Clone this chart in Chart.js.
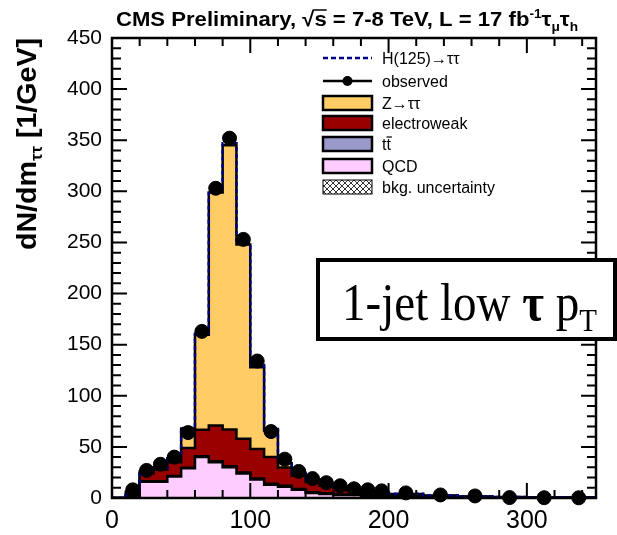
<!DOCTYPE html>
<html>
<head>
<meta charset="utf-8">
<script src="https://cdn.jsdelivr.net/npm/chart.js@4.4.0/dist/chart.umd.min.js"></script>
<style>
  html, body { margin: 0; padding: 0; background: #fff; }
  #wrap { width: 617px; height: 535px; position: relative; }
</style>
</head>
<body>
<div id="wrap"><canvas id="chart"></canvas></div>
<script>
// m_tautau bins (GeV): 10 GeV wide up to 200, then 25 GeV
const binEdges = [0, 10, 20, 30, 40, 50, 60, 70, 80, 90, 100, 110, 120, 130, 140, 150, 160, 170, 180, 190, 200, 225, 250, 275, 300, 325, 350];

// dN/dm per bin
const observed    = [null, 8, 27, 33, 40, 64, 163, 303, 352, 253, 134, 65, 38, 26, 19, 15, 12, 9, 8, 7, 5, 3, 2, 0.4, 0.3, 0.2];
const qcd         = [0, 2, 16, 16, 21, 29, 40, 35, 30, 24, 18, 13, 11, 8, 5, 4, 3, 3, 2, 1.5, 1, 0.5, 0.3, 0.2, 0.1, 0.1];
const ttbar       = [0, 0, 0.3, 0.4, 0.5, 0.6, 0.8, 0.9, 1, 1, 1, 1, 0.9, 0.8, 0.7, 0.6, 0.5, 0.5, 0.4, 0.4, 0.3, 0.2, 0.2, 0.1, 0.1, 0.1];
const electroweak = [0, 2, 7.7, 11.6, 13.5, 19.4, 26, 35, 36, 33, 29, 26, 18, 13, 10, 7.4, 6.5, 3.5, 3.6, 3, 1.7, 1.3, 0.7, 0.5, 0.3, 0.1];
const ztautau     = [0, 2, 2, 2, 4, 19, 93, 228, 278, 190, 80, 26, 4, 2, 2, 2, 1, 1, 1, 1, 1, 0.5, 0.3, 0.2, 0.1, 0.1];
const higgs       = [0, 0, 0, 0, 0.2, 0.5, 1, 1.5, 2, 2, 2, 1.5, 1, 0.8, 0.5, 0.4, 0.3, 0.2, 0.2, 0.1, 0.1, 0, 0, 0, 0, 0];

const xTicks = [0, 100, 200, 300];
const yTicks = [0, 50, 100, 150, 200, 250, 300, 350, 400, 450];

const legendRows = [
  { label: 'H(125)\u2192\u03c4\u03c4', kind: 'dash', color: '#000080' },
  { label: 'observed', kind: 'point', color: '#000' },
  { label: 'Z\u2192\u03c4\u03c4', kind: 'box', color: '#ffcc66' },
  { label: 'electroweak', kind: 'box', color: '#990000' },
  { label: 'tt', kind: 'box', color: '#9999cc', overSecond: true },
  { label: 'QCD', kind: 'box', color: '#ffccff' },
  { label: 'bkg. uncertainty', kind: 'hatch', color: '#fff' }
];

// helpers
function cumulate(...layers) {
  return layers[0].map((_, i) => layers.reduce((s, l) => s + l[i], 0));
}
function stepPoints(values) {
  const pts = values.map((v, i) => ({ x: binEdges[i], y: v }));
  pts.push({ x: binEdges[binEdges.length - 1], y: values[values.length - 1] });
  return pts;
}
function stackLayer(values, color, order) {
  return {
    data: stepPoints(values),
    stepped: 'before',
    fill: 'origin',
    backgroundColor: color,
    borderColor: '#000',
    borderWidth: 2.5,
    pointRadius: 0,
    order: order
  };
}

const observedPoints = [];
observed.forEach((v, i) => {
  if (v !== null) observedPoints.push({ x: (binEdges[i] + binEdges[i + 1]) / 2, y: v });
});

// draw text made of pieces (sub/superscripts), squeezed to a target width
function drawRich(ctx, x, y, parts, targetWidth) {
  let total = 0;
  parts.forEach(p => { ctx.font = p.font; p.w = ctx.measureText(p.text).width; total += p.w; });
  const sx = targetWidth ? targetWidth / total : 1;
  ctx.save();
  ctx.translate(x, y);
  ctx.scale(sx, 1);
  let cx = 0;
  parts.forEach(p => {
    ctx.font = p.font;
    ctx.fillText(p.text, cx, p.dy || 0);
    if (p.overline) {
      ctx.lineWidth = 1.5;
      ctx.beginPath();
      ctx.moveTo(cx - 1, p.overline);
      ctx.lineTo(cx + p.w, p.overline);
      ctx.stroke();
    }
    cx += p.w;
  });
  ctx.restore();
}

function hatchPattern(ctx) {
  const c = document.createElement('canvas');
  c.width = 6; c.height = 6;
  const g = c.getContext('2d');
  g.fillStyle = '#fff';
  g.fillRect(0, 0, 6, 6);
  g.strokeStyle = '#000';
  g.lineWidth = 0.8;
  g.beginPath();
  g.moveTo(0, 0); g.lineTo(6, 6);
  g.moveTo(6, 0); g.lineTo(0, 6);
  g.stroke();
  return ctx.createPattern(c, 'repeat');
}

const frameAndTicks = {
  id: 'frameAndTicks',
  afterDatasetsDraw(chart) {
    const { ctx, chartArea: a, scales: { x, y } } = chart;
    ctx.save();
    ctx.strokeStyle = '#000';
    ctx.lineWidth = 2;
    ctx.beginPath();
    for (let v = 0; v <= 350; v += 20) {
      const px = x.getPixelForValue(v);
      const len = v % 100 === 0 ? 15 : 8;
      ctx.moveTo(px, a.bottom); ctx.lineTo(px, a.bottom - len);
      ctx.moveTo(px, a.top); ctx.lineTo(px, a.top + len);
    }
    for (let v = 0; v <= 450; v += 10) {
      const py = y.getPixelForValue(v);
      const len = v % 50 === 0 ? 15 : 9;
      ctx.moveTo(a.left, py); ctx.lineTo(a.left + len, py);
      ctx.moveTo(a.right, py); ctx.lineTo(a.right - len, py);
    }
    ctx.stroke();
    ctx.lineWidth = 2.5;
    ctx.strokeRect(a.left, a.top, a.right - a.left, a.bottom - a.top);
    ctx.restore();
  }
};

const overlay = {
  id: 'overlay',
  afterDraw(chart) {
    const ctx = chart.ctx;
    ctx.save();
    ctx.fillStyle = '#000';
    ctx.strokeStyle = '#000';
    ctx.textBaseline = 'alphabetic';

    // title
    const tb = 'bold 21px "Liberation Sans", Arial, sans-serif';
    const ts = 'bold 13px "Liberation Sans", Arial, sans-serif';
    drawRich(ctx, 116, 26, [
      { text: 'CMS Preliminary, ', font: tb },
      { text: '\u221a', font: tb },
      { text: 's', font: tb, overline: -16 },
      { text: ' = 7-8 TeV, L = 17 fb', font: tb },
      { text: '-1', font: ts, dy: -8 },
      { text: '\u03c4', font: tb },
      { text: '\u03bc', font: ts, dy: 5 },
      { text: '\u03c4', font: tb },
      { text: 'h', font: ts, dy: 5 }
    ], 462);

    // y axis title
    ctx.save();
    ctx.translate(36, 250);
    ctx.rotate(-Math.PI / 2);
    const yb = 'bold 27px "Liberation Sans", Arial, sans-serif';
    const ys = 'bold 16px "Liberation Sans", Arial, sans-serif';
    drawRich(ctx, 0, 0, [
      { text: 'dN/dm', font: yb },
      { text: '\u03c4\u03c4', font: ys, dy: 6 },
      { text: ' [1/GeV]', font: yb }
    ], 212);
    ctx.restore();

    // legend
    const lx0 = 323, lx1 = 372, tx = 382;
    const rowY = [58, 81, 103, 123, 144, 166, 187];
    ctx.font = '16px "Liberation Sans", Arial, sans-serif';
    legendRows.forEach((r, i) => {
      const cy = rowY[i];
      if (r.kind === 'dash') {
        ctx.save();
        ctx.strokeStyle = r.color;
        ctx.lineWidth = 2.5;
        ctx.setLineDash([5, 3]);
        ctx.beginPath(); ctx.moveTo(lx0, cy); ctx.lineTo(lx1, cy); ctx.stroke();
        ctx.restore();
      } else if (r.kind === 'point') {
        ctx.lineWidth = 2.5;
        ctx.beginPath(); ctx.moveTo(lx0, cy); ctx.lineTo(lx1, cy); ctx.stroke();
        ctx.beginPath(); ctx.arc((lx0 + lx1) / 2, cy, 5, 0, Math.PI * 2); ctx.fill();
      } else if (r.kind === 'box') {
        ctx.fillStyle = r.color;
        ctx.fillRect(lx0, cy - 7, lx1 - lx0, 14);
        ctx.lineWidth = 2.5;
        ctx.strokeRect(lx0, cy - 7, lx1 - lx0, 14);
        ctx.fillStyle = '#000';
      } else {
        ctx.fillStyle = hatchPattern(ctx);
        ctx.fillRect(lx0, cy - 7, lx1 - lx0, 14);
        ctx.lineWidth = 1;
        ctx.strokeRect(lx0, cy - 7, lx1 - lx0, 14);
        ctx.fillStyle = '#000';
      }
      ctx.font = '16px "Liberation Sans", Arial, sans-serif';
      ctx.fillText(r.label, tx, cy + 6);
      if (r.overSecond) {
        const w1 = ctx.measureText('t').width;
        ctx.lineWidth = 1.2;
        ctx.beginPath(); ctx.moveTo(tx + w1, cy - 7); ctx.lineTo(tx + 2 * w1 + 1, cy - 7); ctx.stroke();
      }
    });

    // category box
    ctx.fillStyle = '#fff';
    ctx.fillRect(318, 260, 297, 79);
    ctx.lineWidth = 4;
    ctx.strokeRect(318, 260, 297, 79);
    ctx.fillStyle = '#000';
    const sf = '52px "Liberation Serif", "DejaVu Serif", serif';
    const sfb = 'bold 52px "Liberation Serif", "DejaVu Serif", serif';
    drawRich(ctx, 342, 320, [
      { text: '1-jet low ', font: sf },
      { text: '\u03c4', font: sfb },
      { text: ' p', font: sf },
      { text: 'T', font: '32px "Liberation Serif", "DejaVu Serif", serif', dy: 11 }
    ], 255);

    ctx.restore();
  }
};

const ctx = document.getElementById('chart').getContext('2d');
new Chart(ctx, {
  type: 'line',
  data: {
    datasets: [
      {
        data: observedPoints,
        showLine: false,
        pointRadius: 7,
        pointBackgroundColor: '#000',
        pointBorderColor: '#000',
        clip: false,
        order: 0
      },
      {
        data: stepPoints(cumulate(qcd, ttbar, electroweak, ztautau, higgs)),
        stepped: 'before',
        fill: false,
        borderColor: '#000080',
        borderWidth: 2.5,
        borderDash: [4, 3],
        pointRadius: 0,
        order: 1
      },
      stackLayer(qcd, '#ffccff', 2),
      stackLayer(cumulate(qcd, ttbar), '#9999cc', 3),
      stackLayer(cumulate(qcd, ttbar, electroweak), '#990000', 4),
      stackLayer(cumulate(qcd, ttbar, electroweak, ztautau), '#ffcc66', 5)
    ]
  },
  options: {
    responsive: true,
    maintainAspectRatio: false,
    animation: false,
    layout: { padding: { top: 38, right: 21, left: 0, bottom: 0 } },
    plugins: { legend: { display: false }, tooltip: { enabled: false } },
    scales: {
      x: {
        type: 'linear', min: 0, max: 350,
        grid: { display: false, drawTicks: false },
        border: { display: false },
        afterBuildTicks: s => { s.ticks = xTicks.map(v => ({ value: v })); },
        afterFit: s => { s.height = 37; },
        ticks: { autoSkip: false, maxRotation: 0, padding: 8, color: '#000',
                 font: { family: '"Liberation Sans", Arial, sans-serif', size: 25 } }
      },
      y: {
        type: 'linear', min: 0, max: 450,
        grid: { display: false, drawTicks: false },
        border: { display: false },
        afterBuildTicks: s => { s.ticks = yTicks.map(v => ({ value: v })); },
        afterFit: s => { s.width = 112; },
        ticks: { autoSkip: false, padding: 10, color: '#000',
                 font: { family: '"Liberation Sans", Arial, sans-serif', size: 21 } }
      }
    }
  },
  plugins: [frameAndTicks, overlay]
});
</script>
</body>
</html>
